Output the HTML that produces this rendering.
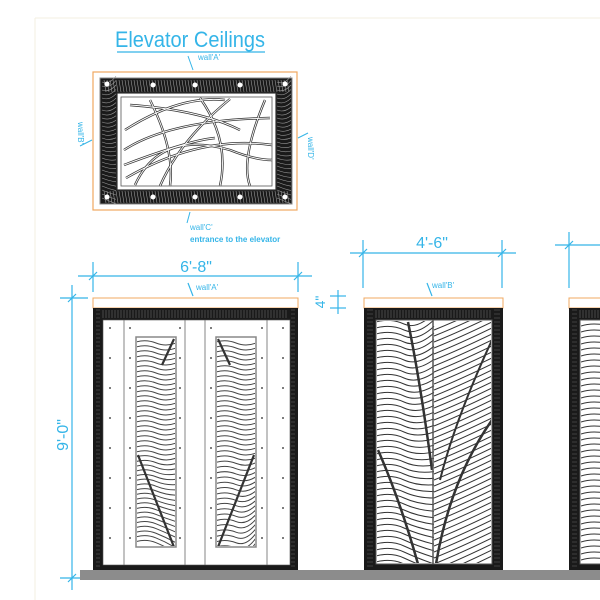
<!DOCTYPE html>
<html><head><meta charset="utf-8"><style>
html,body{margin:0;padding:0;background:#fff;width:600px;height:600px;overflow:hidden}
svg{display:block}
text{font-family:"Liberation Sans",sans-serif;fill:#35b5e8}
</style></head><body>
<svg id="s" width="600" height="600" viewBox="0 0 600 600" xmlns="http://www.w3.org/2000/svg">
<defs>
<clipPath id="cA1"><rect x="137" y="338" width="38" height="208"/></clipPath>
<clipPath id="cA2"><rect x="217" y="338" width="38" height="208"/></clipPath>
<clipPath id="cB"><rect x="377" y="321" width="114" height="242"/></clipPath>
<clipPath id="cC"><rect x="581" y="321" width="29" height="242"/></clipPath>
</defs>
<line x1="35" y1="18" x2="600" y2="18" stroke="#f3efe0" stroke-width="1"/>
<line x1="35" y1="18" x2="35" y2="600" stroke="#f3efe0" stroke-width="1"/>
<text x="190" y="47" font-size="22" text-anchor="middle" textLength="150" lengthAdjust="spacingAndGlyphs">Elevator Ceilings</text>
<line x1="117" y1="52" x2="265" y2="52" stroke="#35b5e8" stroke-width="1.2"/>
<rect x="93" y="72" width="204" height="138" fill="#fff" stroke="#f0a860" stroke-width="1.2"/>
<rect x="100" y="78" width="192" height="126" fill="#1a1a1a" stroke="#888"/>
<g id="ceilstripes"></g>
<rect x="117" y="93" width="159" height="97" fill="#fff" stroke="#333" stroke-width="1.2"/>
<rect x="121" y="97" width="151" height="89" fill="#fff" stroke="#555" stroke-width="0.8"/>
<g id="cl" fill="none"></g>
<g fill="#fff"><circle cx="107" cy="84" r="2.5"/><circle cx="153" cy="85" r="2.5"/><circle cx="195" cy="85" r="2.5"/><circle cx="240" cy="85" r="2.5"/><circle cx="285" cy="84" r="2.5"/>
<circle cx="107" cy="197" r="2.5"/><circle cx="153" cy="197" r="2.5"/><circle cx="195" cy="197" r="2.5"/><circle cx="240" cy="197" r="2.5"/><circle cx="285" cy="197" r="2.5"/></g>
<text x="198" y="60" font-size="8">wall'A'</text>
<line x1="188" y1="56" x2="193" y2="70" stroke="#35b5e8"/>
<text x="0" y="0" font-size="8" transform="translate(78,122) rotate(90)">wall'B'</text>
<line x1="80" y1="146" x2="92" y2="140" stroke="#35b5e8"/>
<text x="0" y="0" font-size="8" transform="translate(308,137) rotate(90)">wall'D'</text>
<line x1="298" y1="138" x2="308" y2="133" stroke="#35b5e8"/>
<line x1="190" y1="212" x2="187" y2="223" stroke="#35b5e8"/>
<text x="190" y="230" font-size="8">wall'C'</text>
<text x="190" y="242" font-size="8" font-weight="bold">entrance to the elevator</text>

<g stroke="#35b5e8" stroke-width="1.2" fill="none">
<line x1="78" y1="276" x2="312" y2="276"/><line x1="93" y1="262" x2="93" y2="292"/><line x1="298" y1="262" x2="298" y2="292"/>
<line x1="89" y1="280" x2="97" y2="272"/><line x1="294" y1="280" x2="302" y2="272"/>
<line x1="60" y1="298" x2="88" y2="298"/><line x1="72" y1="285" x2="72" y2="590"/><line x1="60" y1="578" x2="88" y2="578"/>
<line x1="68" y1="302" x2="76" y2="294"/><line x1="68" y1="582" x2="76" y2="574"/>
<line x1="330" y1="296" x2="346" y2="296"/><line x1="330" y1="308" x2="346" y2="308"/><line x1="338" y1="290" x2="338" y2="314"/>
<line x1="350" y1="253" x2="516" y2="253"/><line x1="363" y1="240" x2="363" y2="288"/><line x1="502" y1="240" x2="502" y2="288"/>
<line x1="359" y1="257" x2="367" y2="249"/><line x1="498" y1="257" x2="506" y2="249"/>
<line x1="555" y1="245" x2="600" y2="245"/><line x1="569" y1="232" x2="569" y2="288"/><line x1="565" y1="249" x2="573" y2="241"/>
<line x1="188" y1="283" x2="193" y2="296"/><line x1="427" y1="283" x2="432" y2="296"/>
</g>
<text x="196" y="272" font-size="16" text-anchor="middle">6'-8"</text>
<text x="432" y="248" font-size="16" text-anchor="middle">4'-6"</text>
<text x="0" y="0" font-size="16" text-anchor="middle" transform="translate(68,435) rotate(-90)">9'-0"</text>
<text x="0" y="0" font-size="14" text-anchor="middle" transform="translate(325,302) rotate(-90)">4"</text>
<text x="196" y="290" font-size="8">wall'A'</text>
<text x="432" y="288" font-size="8">wall'B'</text>

<rect x="80" y="570" width="520" height="10" fill="#8c8c8c"/>

<rect x="93" y="298" width="205" height="10" fill="#fff" stroke="#f0a860"/>
<rect x="93" y="308" width="205" height="262" fill="#1a1a1a"/>
<g id="frA"></g>
<rect x="103" y="320" width="187" height="245" fill="#fff" stroke="#555" stroke-width="0.6"/>
<g stroke="#666" stroke-width="0.8"><line x1="124" y1="320" x2="124" y2="565"/><line x1="185" y1="320" x2="185" y2="565"/><line x1="205" y1="320" x2="205" y2="565"/><line x1="267" y1="320" x2="267" y2="565"/></g>
<g id="dots" fill="#555"></g>
<rect x="136" y="337" width="40" height="210" fill="#fff" stroke="#888" stroke-width="1.5"/>
<rect x="216" y="337" width="40" height="210" fill="#fff" stroke="#888" stroke-width="1.5"/>
<g id="insA1" fill="none" stroke="#333" stroke-width="1" clip-path="url(#cA1)"></g>
<g id="insA2" fill="none" stroke="#333" stroke-width="1" clip-path="url(#cA2)"></g>

<rect x="364" y="298" width="139" height="10" fill="#fff" stroke="#f0a860"/>
<rect x="364" y="308" width="139" height="262" fill="#1a1a1a"/>
<g id="frB"></g>
<rect x="376" y="320" width="116" height="244" fill="#fff" stroke="#555"/>
<g id="leafB" fill="none" stroke="#333" stroke-width="1" clip-path="url(#cB)"></g>
<line x1="433" y1="320" x2="433" y2="564" stroke="#555" stroke-width="1.5"/>

<rect x="569" y="298" width="40" height="10" fill="#fff" stroke="#f0a860"/>
<rect x="569" y="308" width="40" height="262" fill="#1a1a1a"/>
<g id="frC"></g>
<rect x="580" y="320" width="30" height="244" fill="#fff" stroke="#555"/>
<g id="leafC" fill="none" stroke="#333" stroke-width="1" clip-path="url(#cC)"></g>
</svg>
<script>
const NS="http://www.w3.org/2000/svg";
function el(p,t,a){const e=document.createElementNS(NS,t);for(const k in a)e.setAttribute(k,a[k]);document.getElementById(p).appendChild(e);return e;}
function frame(id,x,y,w,h,bw){
 for(let yy=y+2;yy<y+h;yy+=4){el(id,'line',{x1:x+3,y1:yy,x2:x+bw-3,y2:yy,stroke:'#666','stroke-width':0.5});el(id,'line',{x1:x+w-bw+3,y1:yy,x2:x+w-3,y2:yy,stroke:'#666','stroke-width':0.5});}
 for(let xx=x+bw;xx<x+w-bw;xx+=3){el(id,'line',{x1:xx,y1:y+2,x2:xx,y2:y+10,stroke:'#777','stroke-width':0.5});}
}
frame('frA',93,308,205,262,10);frame('frB',364,308,139,262,12);frame('frC',569,308,60,262,11);
for(let x=104;x<290;x+=3){el('ceilstripes','line',{x1:x,y1:80,x2:x+2,y2:92,stroke:'#999','stroke-width':0.6});el('ceilstripes','line',{x1:x,y1:191,x2:x+2,y2:203,stroke:'#999','stroke-width':0.6});}
for(let y=82;y<202;y+=4){el('ceilstripes','path',{d:`M102 ${y} q7 3 14 ${(y-140)/10}`,stroke:'#999','stroke-width':0.6,fill:'none'});el('ceilstripes','path',{d:`M277 ${y} q7 3 14 ${(y-140)/10}`,stroke:'#999','stroke-width':0.6,fill:'none'});}
const cp=["M130 105 Q200 110 240 130","M125 130 Q180 95 225 100","M124 150 Q170 120 270 118","M124 165 Q190 140 215 138","M126 178 Q200 135 272 145","M135 185 Q160 130 230 150 Q255 160 272 160","M150 100 Q175 150 170 186","M200 98 Q230 140 220 186","M230 99 Q180 140 160 186","M265 100 Q240 160 250 186"];
cp.forEach(d=>el('cl','path',{d,stroke:'#333','stroke-width':2.4}));cp.forEach(d=>el('cl','path',{d,stroke:'#fff','stroke-width':0.9}));
[110,130,180,211,262,283].forEach(x=>{for(let y=328;y<562;y+=30)el('dots','circle',{cx:x,cy:y,r:1});});
[['insA1',136,1],['insA2',216,-1]].forEach(([id,x0,dir])=>{
 for(let y=342;y<548;y+=5){const t=(y-342)/206;const b=t<0.55?0:(t-0.55)*30;
  el(id,'path',{d:`M${x0} ${y-b*0.4*dir} q10 -3 20 ${1} t20 ${b*0.8*dir}`,stroke:'#444'});}
 el(id,'path',{d:dir>0?`M${x0+2} 455 L${x0+38} 547 M${x0+38} 339 L${x0+26} 365`:`M${x0+38} 455 L${x0+2} 547 M${x0+2} 339 L${x0+14} 365`,'stroke-width':2.2});
});
for(let y=322;y<575;y+=6){el('leafB','path',{d:`M376 ${y} q15 -4 28 2 t30 ${(y-430)/10}`});el('leafB','path',{d:`M434 ${y+8} q25 -10 58 -26`});}
el('leafB','path',{d:'M408 322 Q420 380 432 470','stroke-width':2.5});
el('leafB','path',{d:'M378 450 Q400 500 418 564','stroke-width':2.5});
el('leafB','path',{d:'M492 420 Q450 480 436 564','stroke-width':2.5});
el('leafB','path',{d:'M492 340 Q455 420 440 480','stroke-width':2});
for(let y=326;y<565;y+=6){el('leafC','path',{d:`M581 ${y} q12 -4 29 0`});}
</script>
</body></html>
